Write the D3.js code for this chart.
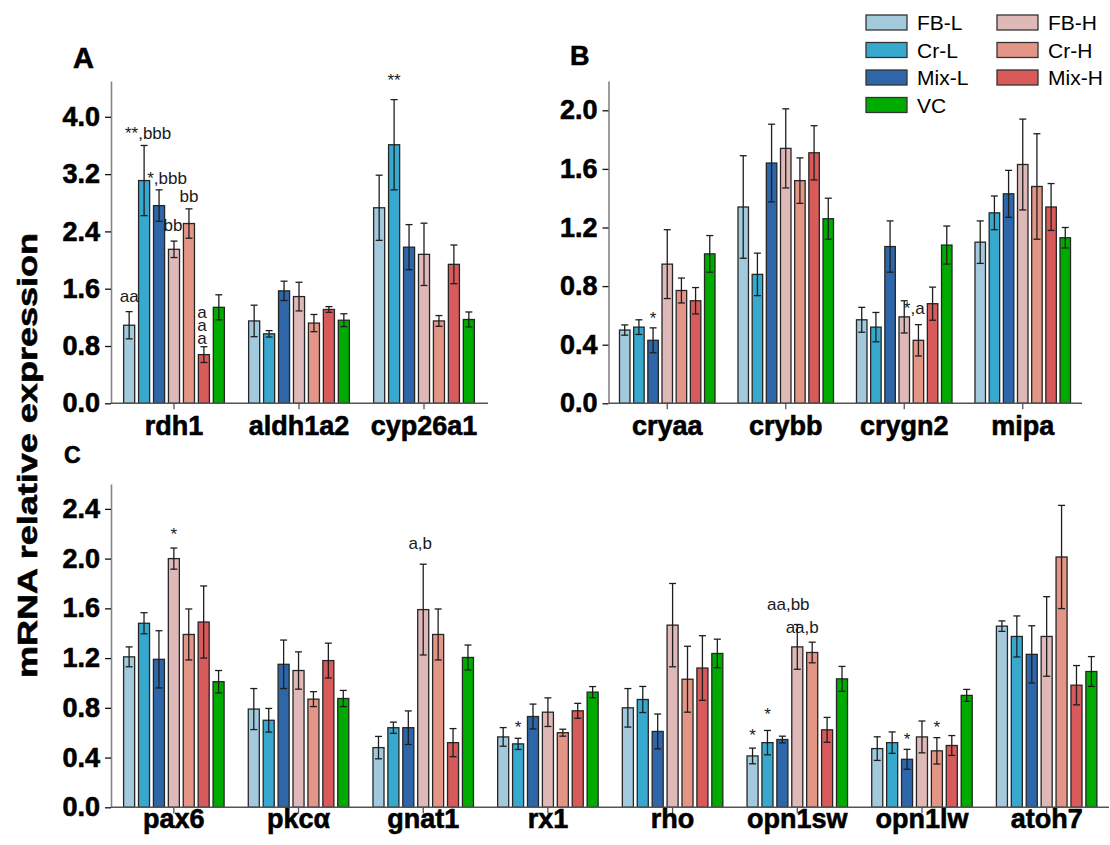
<!DOCTYPE html>
<html><head><meta charset="utf-8">
<script src="https://cdn.jsdelivr.net/npm/d3@7/dist/d3.min.js"></script>
<style>
body{margin:0;background:#fff}
svg{display:block}
text{font-family:"Liberation Sans",Arial,sans-serif}
</style>
</head><body>
<svg id="chart" width="1110" height="845"></svg>
<script>
// ---------- data ----------
const series = ["FB-L","Cr-L","Mix-L","FB-H","Cr-H","Mix-H","VC"];
const seriesColors = ["#a3c9dd","#37a9cf","#2d66a9","#dfb9b8","#e39586","#d85a5a","#00ab00"];

const genesA = ["rdh1","aldh1a2","cyp26a1"];
const meanA = [
  [1.09,3.11,2.76,2.15,2.51,0.68,1.34],
  [1.15,0.97,1.57,1.49,1.12,1.31,1.16],
  [2.73,3.61,2.18,2.08,1.15,1.94,1.17]
];
const errA = [
  [0.19,0.49,0.22,0.115,0.205,0.11,0.175],
  [0.22,0.045,0.135,0.2,0.12,0.04,0.09],
  [0.455,0.63,0.315,0.435,0.075,0.27,0.105]
];
const ticksA = [0,0.8,1.6,2.4,3.2,4.0];

const genesB = ["cryaa","crybb","crygn2","mipa"];
const meanB = [
  [0.50,0.52,0.43,0.95,0.77,0.70,1.02],
  [1.34,0.88,1.64,1.74,1.52,1.71,1.26],
  [0.57,0.52,1.07,0.59,0.43,0.68,1.08],
  [1.10,1.30,1.43,1.63,1.48,1.34,1.13]
];
const errB = [
  [0.035,0.05,0.085,0.235,0.085,0.09,0.125],
  [0.35,0.145,0.265,0.27,0.155,0.185,0.14],
  [0.085,0.1,0.175,0.11,0.107,0.113,0.13],
  [0.145,0.115,0.16,0.31,0.36,0.16,0.07]
];
const ticksB = [0,0.4,0.8,1.2,1.6,2.0];

const genesC = ["pax6","pkcα","gnat1","rx1","rho","opn1sw","opn1lw","atoh7"];
const meanC = [
  [1.21,1.48,1.19,2.00,1.39,1.49,1.01],
  [0.79,0.70,1.15,1.10,0.87,1.18,0.875],
  [0.48,0.64,0.64,1.59,1.39,0.52,1.205],
  [0.566,0.51,0.73,0.765,0.60,0.776,0.926],
  [0.80,0.867,0.61,1.465,1.03,1.12,1.237],
  [0.413,0.52,0.545,1.29,1.245,0.623,1.033],
  [0.472,0.52,0.386,0.566,0.454,0.497,0.90],
  [1.457,1.374,1.23,1.374,2.013,0.982,1.092]
];
const errC = [
  [0.08,0.085,0.23,0.085,0.205,0.29,0.09],
  [0.165,0.095,0.195,0.15,0.06,0.14,0.065],
  [0.09,0.045,0.135,0.365,0.205,0.113,0.1],
  [0.075,0.045,0.1,0.115,0.028,0.06,0.045],
  [0.155,0.105,0.14,0.335,0.265,0.26,0.115],
  [0.063,0.098,0.027,0.18,0.083,0.1,0.1],
  [0.095,0.086,0.08,0.128,0.106,0.08,0.048],
  [0.042,0.165,0.23,0.32,0.415,0.158,0.12]
];
const ticksC = [0,0.4,0.8,1.2,1.6,2.0,2.4];

// significance labels: gene, series, text, data level of baseline ("|" = stacked vertically)
const annA = [
  ["rdh1","FB-L","aa",1.42],
  ["rdh1","Cr-L","**,bbb",3.69],
  ["rdh1","Mix-L","*,bbb",3.06],
  ["rdh1","FB-H","bb",2.40],
  ["rdh1","Cr-H","bb",2.81],
  ["rdh1","Mix-H","|aaa",0.90],
  ["cyp26a1","Cr-L","**",4.43]
];
const annB = [
  ["cryaa","Mix-L","*",0.54],
  ["crygn2","FB-H","*,a",0.61]
];
const annC = [
  ["pax6","FB-H","*",2.15],
  ["gnat1","FB-H","a,b",2.08],
  ["rx1","Cr-L","*",0.60],
  ["opn1sw","FB-L","*",0.53],
  ["opn1sw","Cr-L","*",0.70],
  ["opn1sw","FB-H","aa,bb",1.59],
  ["opn1sw","Cr-H","aa,b",1.40],
  ["opn1lw","Mix-L","*",0.50],
  ["opn1lw","Cr-H","*",0.60]
];
// horizontal nudges (px) for labels, parallel to the lists above
const annDxA = [0,4,8,-1,0,-2,0];
const annDxB = [0,10];
const annDxC = [0,-3,0,0,0,-9,-10,0,0];

// ---------- drawing ----------
const svg = d3.select("#chart");
const FONT = '"Liberation Sans",Arial,sans-serif';

function heavy(sel, size){
  sel.attr("font-size",size).attr("font-weight","bold").attr("font-family",FONT)
     .attr("fill","#000").attr("stroke","#000").attr("stroke-width",0.6);
}

function panel(cfg){
  const g = svg.append("g");
  const x0 = d3.scaleBand().domain(cfg.genes).range(cfg.xr)
    .paddingInner(0.194).paddingOuter(0.097);
  const x1 = d3.scaleBand().domain(series).range([0,x0.bandwidth()]).paddingInner(0.26);
  const y = d3.scaleLinear().domain(cfg.yd).range(cfg.yr);

  cfg.genes.forEach((gene,gi)=>{
    const gg = g.append("g").attr("transform",`translate(${x0(gene)},0)`);
    series.forEach((s,si)=>{
      const m = cfg.mean[gi][si];
      gg.append("rect")
        .attr("x",x1(s)).attr("width",x1.bandwidth())
        .attr("y",y(m)).attr("height",y(0)-y(m))
        .attr("fill",seriesColors[si]).attr("stroke","#262626").attr("stroke-width",1.3);
    });
    series.forEach((s,si)=>{
      const m = cfg.mean[gi][si], e = cfg.err[gi][si];
      const cx = x1(s)+x1.bandwidth()/2;
      const eg = gg.append("g").attr("stroke","#1e1e1e").attr("stroke-width",1.3);
      eg.append("line").attr("x1",cx).attr("x2",cx).attr("y1",y(m+e)).attr("y2",y(m-e));
      eg.append("line").attr("x1",cx-3.5).attr("x2",cx+3.5).attr("y1",y(m+e)).attr("y2",y(m+e));
      eg.append("line").attr("x1",cx-3.5).attr("x2",cx+3.5).attr("y1",y(m-e)).attr("y2",y(m-e));
    });
  });

  const ya = g.append("g").attr("transform",`translate(${cfg.axisX},0)`)
    .call(d3.axisLeft(y).tickValues(cfg.ticks).tickFormat(d3.format(".1f")).tickSize(6).tickSizeOuter(0).tickPadding(5));
  ya.select(".domain").attr("stroke","#858585").attr("stroke-width",1.6);
  ya.selectAll(".tick line").attr("stroke","#111").attr("stroke-width",1.3);
  heavy(ya.selectAll(".tick text"),27);

  const xa = g.append("g").attr("transform",`translate(0,${y(0)})`)
    .call(d3.axisBottom(x0).tickSize(6).tickSizeOuter(0));
  xa.select(".domain").attr("d",`M${cfg.axisX},0H${cfg.xEnd}`).attr("stroke","#555").attr("stroke-width",1.6);
  xa.selectAll(".tick line").attr("stroke","#555").attr("stroke-width",1.3);
  heavy(xa.selectAll(".tick text").attr("y",cfg.labOff).attr("dy",0),27);

  cfg.ann.forEach((a,i)=>{
    const [gene,s,txt,lv] = a;
    const ax = x0(gene)+x1(s)+x1.bandwidth()/2+cfg.annDx[i];
    const t = g.append("text").attr("fill","#1a1a1a").attr("font-size",17);
    if (txt.startsWith("|")) {
      // vertical stack of letters (one text element)
      const body = txt.slice(1);
      t.attr("x",ax).attr("y",y(lv)+3)
       .attr("text-anchor","end")
       .style("writing-mode","vertical-rl")
       .style("text-orientation","upright")
       .style("letter-spacing","-6px")
       .text(body);
    } else {
      t.attr("x",ax).attr("y",y(lv)).attr("text-anchor","middle").text(txt);
    }
  });
}

panel({genes:genesA,mean:meanA,err:errA,ticks:ticksA,yd:[0,4.5],yr:[403.3,81],
  xr:[111.5,486.5],axisX:111,xEnd:488,labOff:32,ann:annA,annDx:annDxA});
panel({genes:genesB,mean:meanB,err:errB,ticks:ticksB,yd:[0,2.2],yr:[403.3,81],
  xr:[608,1082],axisX:608.5,xEnd:1082,labOff:32,ann:annB,annDx:annDxB});
panel({genes:genesC,mean:meanC,err:errC,ticks:ticksC,yd:[0,2.6],yr:[807.3,484],
  xr:[111.5,1109],axisX:111,xEnd:1109,labOff:21,ann:annC,annDx:annDxC});

// panel letters
heavy(svg.append("text").attr("x",73).attr("y",68).text("A"),29);
heavy(svg.append("text").attr("x",570).attr("y",65).text("B"),27);
heavy(svg.append("text").attr("x",64).attr("y",463).text("C"),23);

// y title
heavy(svg.append("text")
  .attr("transform","translate(36.5,455.5) rotate(-90)")
  .attr("text-anchor","middle")
  .attr("textLength",445).attr("lengthAdjust","spacingAndGlyphs")
  .text("mRNA relative expression"),28);

// legend: left column FB-L, Cr-L, Mix-L, VC; right column FB-H, Cr-H, Mix-H
const legCols = [[866,917],[997,1048]];
const legRows = [22.5,50,77.5,105];
const legOrder = [[0,0],[0,1],[0,2],[1,0],[1,1],[1,2],[0,3]];
series.forEach((s,i)=>{
  const [c,r] = legOrder[i];
  const lg = svg.append("g");
  lg.append("rect").attr("x",legCols[c][0]).attr("y",legRows[r]-7.5).attr("width",41).attr("height",15)
    .attr("fill",seriesColors[i]).attr("stroke","#333").attr("stroke-width",1.3);
  lg.append("text").attr("x",legCols[c][1]).attr("y",legRows[r]).attr("dy","0.36em")
    .attr("font-size",21).attr("fill","#000").text(s);
});
</script>
</body></html>
